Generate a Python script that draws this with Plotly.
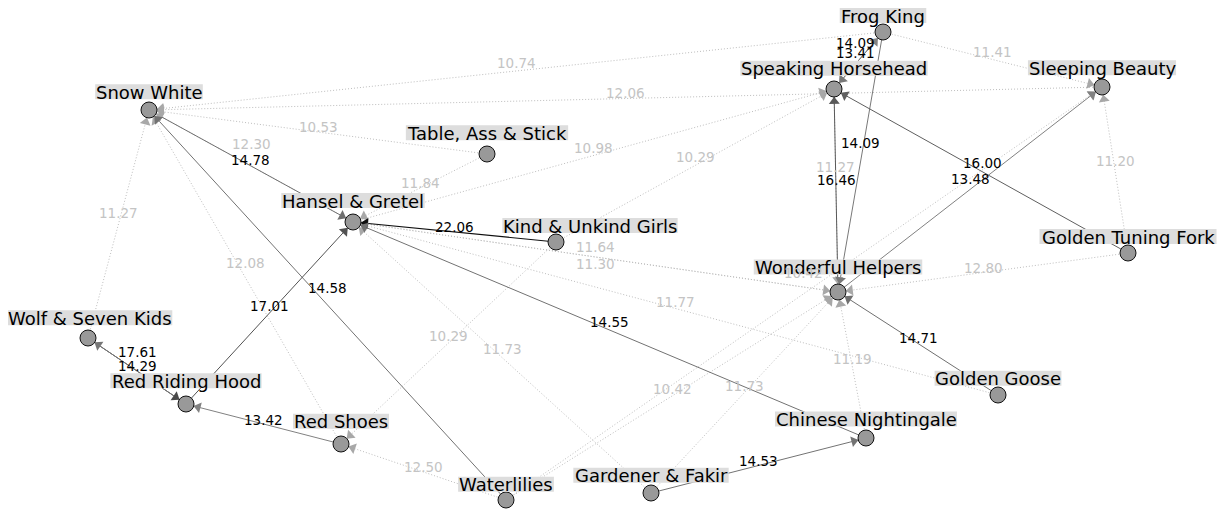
import math
import plotly.graph_objects as go

# ---------------- data ----------------
node_names = ["Snow White", "Table, Ass & Stick", "Hansel & Gretel", "Kind & Unkind Girls",
              "Frog King", "Speaking Horsehead", "Sleeping Beauty", "Golden Tuning Fork",
              "Wonderful Helpers", "Wolf & Seven Kids", "Red Riding Hood", "Red Shoes",
              "Waterlilies", "Gardener & Fakir", "Chinese Nightingale", "Golden Goose"]
layout_x = [149, 487, 353, 556, 883, 834, 1102, 1128, 838, 88, 186, 341, 506, 651, 866, 998]
layout_y = [110, 154, 222, 242, 32, 89, 87, 253, 292, 338, 404, 444, 500, 493, 438, 395]

edge_source = ["Snow White", "Hansel & Gretel", "Waterlilies", "Red Riding Hood",
               "Kind & Unkind Girls", "Chinese Nightingale", "Wolf & Seven Kids", "Red Riding Hood",
               "Red Shoes", "Gardener & Fakir", "Golden Goose", "Wonderful Helpers",
               "Speaking Horsehead", "Frog King", "Speaking Horsehead", "Frog King",
               "Golden Tuning Fork", "Wonderful Helpers", "Frog King", "Sleeping Beauty",
               "Table, Ass & Stick", "Wolf & Seven Kids", "Red Shoes", "Table, Ass & Stick",
               "Hansel & Gretel", "Kind & Unkind Girls", "Hansel & Gretel", "Wonderful Helpers",
               "Golden Goose", "Gardener & Fakir", "Kind & Unkind Girls", "Waterlilies",
               "Gardener & Fakir", "Waterlilies", "Golden Tuning Fork", "Golden Tuning Fork",
               "Frog King", "Chinese Nightingale", "Waterlilies"]
edge_target = ["Hansel & Gretel", "Snow White", "Snow White", "Hansel & Gretel",
               "Hansel & Gretel", "Hansel & Gretel", "Red Riding Hood", "Wolf & Seven Kids",
               "Red Riding Hood", "Chinese Nightingale", "Wonderful Helpers", "Speaking Horsehead",
               "Wonderful Helpers", "Speaking Horsehead", "Frog King", "Wonderful Helpers",
               "Speaking Horsehead", "Sleeping Beauty", "Snow White", "Snow White",
               "Snow White", "Snow White", "Snow White", "Hansel & Gretel",
               "Speaking Horsehead", "Speaking Horsehead", "Wonderful Helpers", "Hansel & Gretel",
               "Hansel & Gretel", "Hansel & Gretel", "Red Shoes", "Wonderful Helpers",
               "Wonderful Helpers", "Red Shoes", "Wonderful Helpers", "Sleeping Beauty",
               "Sleeping Beauty", "Wonderful Helpers", "Sleeping Beauty"]
edge_weight = [14.78, 12.30, 14.58, 17.01,
               22.06, 14.55, 17.61, 14.29,
               13.42, 14.53, 14.71, 16.46,
               11.27, 14.09, 13.41, 14.09,
               16.00, 13.48, 10.74, 12.06,
               10.53, 11.27, 12.08, 11.84,
               10.98, 10.29, 11.64, 11.30,
               11.77, 11.73, 10.29, 10.42,
               11.73, 12.50, 12.80, 11.20,
               11.41, 11.19, 10.42]

# ---------------- style ----------------
# pixel nudges of the edge labels from the edge midpoints
label_dx = [-1, 0, 0, 0, 0, 0, 0, 0, 0, 0, 0, 0, -1, -3, -3, 0, 1, 0, 0, 0,
            0, 0, 0, 0, 0, 0, 0, 0, 0, 0, 0, 0, 0, 0, 0, 0, 0, 0, -1]
label_dy = [-6, -22, -17, -7, -5, -8, -19, -5, -4, -4.5, -5.5, -10.5, -23.5, -17.5, -7.5, -19,
            -8, -10.5, -8, -5.5, -5, -11, -14, -5, -7.5, -8.5, -10, 7, -6.5, -8.5, -7, -7,
            -6.5, -5, -4.5, -9, -7.5, -6, -20.5]
# pixel placement of the node-name boxes relative to the node centre
name_dx = [0, 0, 0, 34, 0, 0, 0, 0, 0, 1.5, 0, 0, 0, 0, 0, 0]
name_gap = [10.7, 13.7, 14, 9, 9, 13.3, 11.7, 9, 17.4, 12.7, 15.7, 15.3, 8.3, 10.3, 11.6, 9.3]

W, H = 1231, 511
PAGE_PAD = 8          # default body margin of the html page
STRONG = 13.0
NODE_R = 8
FONT = "DejaVu Sans"
NODE_FS = 18
EDGE_FS = 13.5
BOX_H = 15

# DejaVu Sans advance widths (units per em = 2048)
CW = {' ': 651, '&': 1595, ',': 651, 'A': 1401, 'B': 1405, 'C': 1430, 'F': 1178, 'G': 1577,
      'H': 1540, 'K': 1343, 'N': 1532, 'R': 1423, 'S': 1300, 'T': 1251, 'U': 1499, 'W': 2025,
      'a': 1255, 'b': 1300, 'c': 1126, 'd': 1300, 'e': 1260, 'f': 721, 'g': 1300, 'h': 1298,
      'i': 569, 'k': 1186, 'l': 569, 'n': 1298, 'o': 1253, 'p': 1300, 'r': 842, 's': 1067,
      't': 803, 'u': 1298, 'v': 1212, 'w': 1675, 'y': 1212, 'z': 1075}


def text_width(s, size):
    return sum(CW.get(c, 1250) for c in s) / 2048.0 * size


def solid_color(w):
    t = min(max((w - STRONG) / 9.0, 0.0), 1.0)
    g = int(round(135 - t * 120))
    return f"rgb({g},{g},{g})"


pos = {n: (x, y) for n, x, y in zip(node_names, layout_x, layout_y)}

fig = go.Figure()

# edges: weak (dotted) first, strong (solid) on top
order = sorted(range(len(edge_weight)), key=lambda i: edge_weight[i] >= STRONG)
for i in order:
    (x0, y0), (x1, y1) = pos[edge_source[i]], pos[edge_target[i]]
    w = edge_weight[i]
    if w >= STRONG:
        line = dict(color=solid_color(w), width=1.2 if w > 20 else 1.0)
    else:
        line = dict(color="#bebebe", width=1.0, dash="1px,2px")
    fig.add_trace(go.Scatter(x=[x0, x1], y=[y0, y1], mode="lines", line=line,
                             hoverinfo="skip", showlegend=False, cliponaxis=False))

# arrow heads at the targets
ax_, ay_, ang, acol = [], [], [], []
for i in order:
    (x0, y0), (x1, y1) = pos[edge_source[i]], pos[edge_target[i]]
    L = math.hypot(x1 - x0, y1 - y0)
    ux, uy = (x1 - x0) / L, (y1 - y0) / L
    d = NODE_R + 4.5
    ax_.append(x1 - ux * d)
    ay_.append(y1 - uy * d)
    ang.append(math.degrees(math.atan2(ux, -uy)))
    acol.append(solid_color(edge_weight[i]) if edge_weight[i] >= STRONG else "#a8a8a8")
fig.add_trace(go.Scatter(x=ax_, y=ay_, mode="markers", cliponaxis=False,
                         marker=dict(symbol="triangle-up", size=9.5, color=acol, angle=ang,
                                     line=dict(width=0)),
                         hoverinfo="skip", showlegend=False))

# nodes
fig.add_trace(go.Scatter(x=layout_x, y=layout_y, mode="markers", cliponaxis=False,
                         marker=dict(size=16, color="#999999", line=dict(color="#111111", width=1)),
                         hoverinfo="text", text=node_names, showlegend=False))

# node labels with tight grey boxes
shapes = []
annotations = []
for n, x, y, dx, gap in zip(node_names, layout_x, layout_y, name_dx, name_gap):
    tw = text_width(n, NODE_FS)
    cx = x + dx
    y1 = y - gap
    y0 = y1 - BOX_H
    shapes.append(dict(type="rect", xref="x", yref="y", x0=cx - tw / 2 - 0.5, x1=cx + tw / 2 + 0.5,
                       y0=y0, y1=y1, fillcolor="#dddddd", line=dict(width=0), layer="above"))
    annotations.append(dict(x=cx, y=(y0 + y1) / 2 + 0.5, xref="x", yref="y", text=n,
                            showarrow=False, xanchor="center", yanchor="middle",
                            font=dict(family=FONT, size=NODE_FS, color="#000000")))

# edge labels
for i in order:
    (x0, y0), (x1, y1) = pos[edge_source[i]], pos[edge_target[i]]
    w = edge_weight[i]
    annotations.append(dict(x=(x0 + x1) / 2, y=(y0 + y1) / 2, xref="x", yref="y",
                            text=f"{w:.2f}", showarrow=False, xanchor="center", yanchor="middle",
                            xshift=label_dx[i], yshift=-label_dy[i],
                            font=dict(family=FONT, size=EDGE_FS,
                                      color="#000000" if w >= STRONG else "#c4c4c4")))

# the page adds an 8px body margin; shift the axes so layout units map 1:1 to window pixels
fig.update_layout(width=W - PAGE_PAD, height=H - PAGE_PAD, margin=dict(l=0, r=0, t=0, b=0),
                  paper_bgcolor="white", plot_bgcolor="white", showlegend=False,
                  xaxis=dict(visible=False, range=[PAGE_PAD, W], fixedrange=True),
                  yaxis=dict(visible=False, range=[H, PAGE_PAD], fixedrange=True),
                  shapes=shapes, annotations=annotations, font=dict(family=FONT))

fig.write_html("out.html")
